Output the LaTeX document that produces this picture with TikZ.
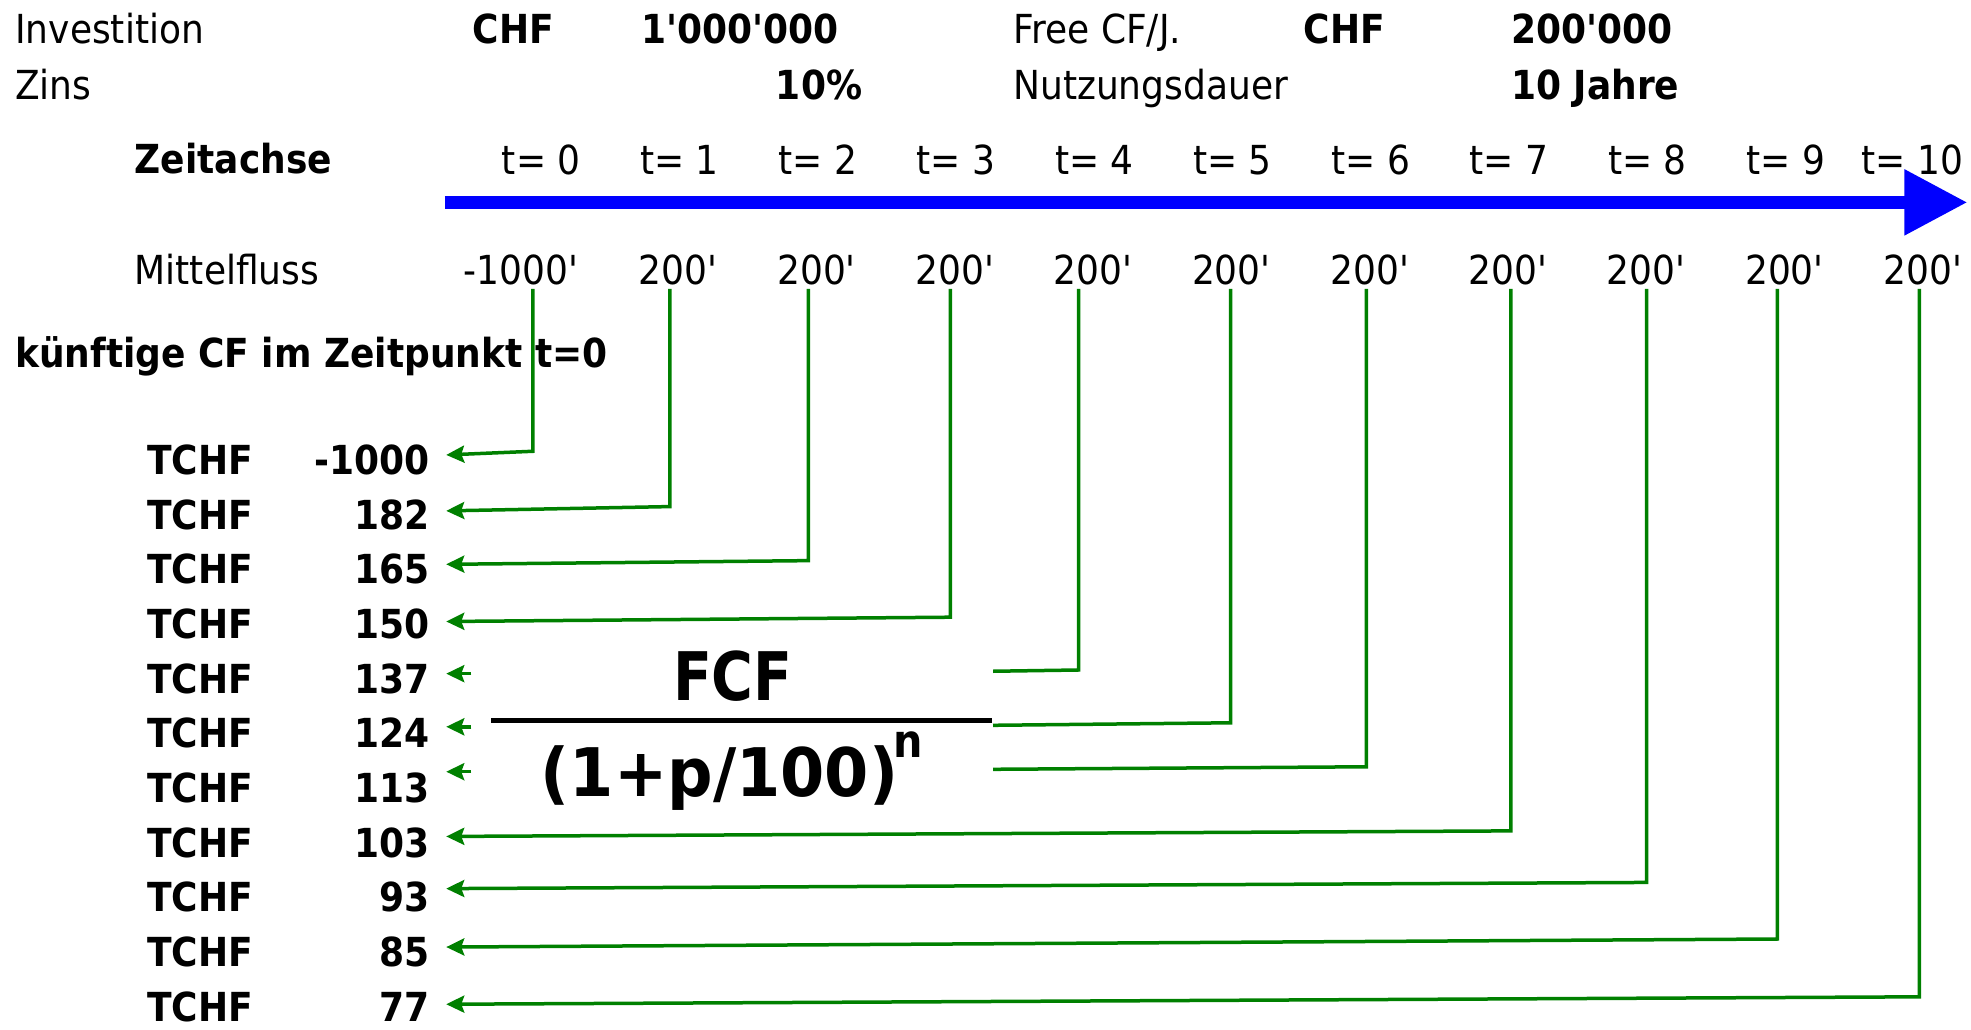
\documentclass[tikz,border=0pt]{standalone}
\usepackage{fontspec}
\setmainfont{DejaVu Sans}[Ligatures=TeXOff, FakeStretch=0.9]
\newfontfamily\bfont{DejaVu Sans Bold}[Ligatures=TeXOff, FakeStretch=0.9]
\newfontfamily\numfont{DejaVu Sans Bold}[Ligatures=TeXOff, FakeStretch=0.85]
\newfontfamily\denfont{DejaVu Sans Bold}[Ligatures=TeXOff, FakeStretch=0.95]
\usetikzlibrary{arrows.meta}
\definecolor{flowgreen}{RGB}{0,128,0}
\definecolor{axisblue}{RGB}{0,0,255}

\begin{document}
\begin{tikzpicture}[x=1.257pt,y=-1.257pt,
  txt/.style={inner sep=0pt, font=\fontsize{40}{48}\selectfont},
  btxt/.style={inner sep=0pt, font=\fontsize{40}{48}\selectfont\bfont},
  formula/.style={inner sep=0pt, font=\fontsize{67}{80}\selectfont\numfont},
  flowline/.style={draw=flowgreen, line width=3.5pt, line join=miter},
  flowarrow/.style={flowline, -{Stealth[length=18pt, width=17pt, inset=3pt]}}
]
\useasboundingbox (0,0) rectangle (1568,819);

% parameters of the investment
\node[txt, anchor=base west] (inv) at (12,35) {Investition};
\node[btxt, anchor=base west] (chfa) at (376,35) {CHF};
\node[btxt, anchor=base west] (amta) at (510,35) {1'000'000};
\node[txt, anchor=base west] (fcfj) at (806,35) {Free CF/J.};
\node[btxt, anchor=base west] (chfb) at (1037,35) {CHF};
\node[btxt, anchor=base west] (amtb) at (1202,35) {200'000};
\node[txt, anchor=base west] (zins) at (12,79) {Zins};
\node[btxt, anchor=base east] (rate) at (686,79) {10\%};
\node[txt, anchor=base west] (dauer) at (806,79) {Nutzungsdauer};
\node[btxt, anchor=base west] (jahre) at (1202,79) {10 Jahre};

% time axis
\node[btxt, anchor=base west] (axlbl) at (107,138) {Zeitachse};
\foreach \k in {0,...,10}
  \node[txt, anchor=base east] (tl\k) at ({462+110*\k},139) {t= \k};
\coordinate (ax0) at (354,161);
\coordinate (ax1) at (1565,161);
\draw[axisblue, line width=12.5pt,
      -{Triangle[length=62.9pt 0 0, width=62.9pt 0 0]}] (ax0) -- (ax1);

% cash flows per year
\node[txt, anchor=base west] (mflbl) at (107,226) {Mittelfluss};
\node[txt, anchor=base east, inner ysep=4pt] (fl0) at (460,226) {-1000'};
\foreach \k in {1,...,10}
  \node[txt, anchor=base east, inner ysep=4pt] (fl\k) at ({461+110*\k},226) {200'};

\node[btxt, anchor=base west] (pvlbl) at (12,292) {künftige CF im Zeitpunkt t=0};

% discounted values
\foreach \i/\v in {0/-1000,1/182,2/165,3/150,4/137,5/124,6/113,7/103,8/93,9/85,10/77} {
  \node[btxt, anchor=base west] (cu\i) at (117,{377.5+43.5*\i}) {TCHF};
  \node[btxt, anchor=base east, inner xsep=16.3pt] (pv\i) at (355,{377.5+43.5*\i}) {\v};
}

% discounting formula
\node[formula, anchor=base] (num) at (583,557) {FCF};
\coordinate (barL) at (391,573);
\coordinate (barR) at (789,573);
\draw[line width=5pt] (barL) -- (barR);
\node[formula, font=\fontsize{67}{80}\selectfont\denfont, anchor=base west] (den) at (430,634) {(1+p/100)};
\node[inner sep=0pt, font=\fontsize{46}{52}\selectfont\bfont, anchor=base west] (expn) at (711,603) {n};

% connectors from each cash flow to its present value
\foreach \i/\cx/\cy/\dy in {0/424/359/4, 1/533/403/3, 2/643/446/4, 3/756/491/2,
                            7/1202/661/5, 8/1310/702/7, 9/1414/747/4, 10/1527/793/2} {
  \coordinate (c\i) at (\cx,\cy);
  \draw[flowarrow] (fl\i.south -| c\i) -- (c\i) -- ([yshift=\dy*1.257pt]pv\i.east);
}
\coordinate (stubx) at (375,0);
\foreach \i/\cx/\cy/\ey/\dy in {4/858/533/534/4, 5/979/575/577/5, 6/1087/610/612/13} {
  \coordinate (c\i) at (\cx,\cy);
  \coordinate (e\i) at (790,\ey);
  \coordinate (tip\i) at ([yshift=\dy*1.257pt]pv\i.east);
  \draw[flowline] (fl\i.south -| c\i) -- (c\i) -- (e\i);
  \draw[flowarrow] (tip\i -| stubx) -- (tip\i);
}
\end{tikzpicture}
\end{document}
